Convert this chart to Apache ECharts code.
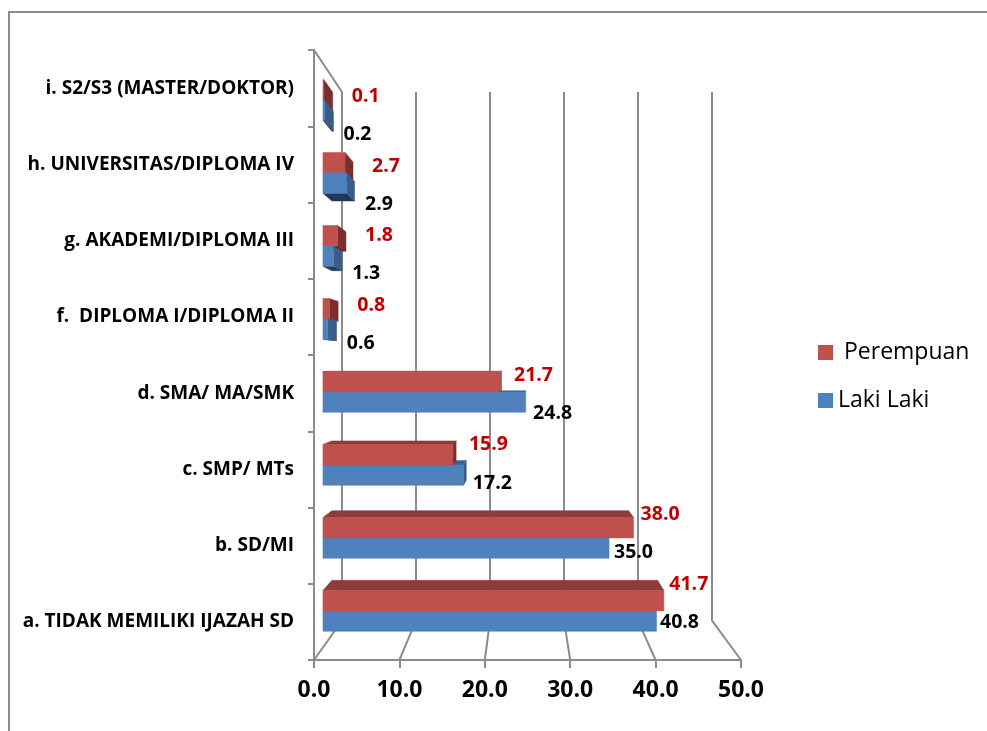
<!DOCTYPE html>
<html>
<head>
<meta charset="utf-8">
<script src="https://cdn.jsdelivr.net/npm/echarts@6/dist/echarts.min.js"></script>
<style>
  html, body { margin: 0; padding: 0; background: #fff; }
  #main { width: 987px; height: 731px; }
</style>
</head>
<body>
<div id="main"></div>
<script>
// data
var categories = ['a. TIDAK MEMILIKI IJAZAH SD', 'b. SD/MI', 'c. SMP/ MTs', 'd. SMA/ MA/SMK',
  'f.  DIPLOMA I/DIPLOMA II', 'g. AKADEMI/DIPLOMA III', 'h. UNIVERSITAS/DIPLOMA IV', 'i. S2/S3 (MASTER/DOKTOR)'];
var lakiLaki = [40.8, 35.0, 17.2, 24.8, 0.6, 1.3, 2.9, 0.2];
var perempuan = [41.7, 38.0, 15.9, 21.7, 0.8, 1.8, 2.7, 0.1];
var xTicks = [0, 10, 20, 30, 40, 50];

// 3D box: front plane and back wall
var FRONT = { left: 314, top: 50, width: 427, height: 610 };
var BACK = { left: 342, top: 92, width: 370, height: 529 };
var S = BACK.width / FRONT.width;
var VP = [(BACK.left - FRONT.left * S) / (1 - S), (BACK.top - FRONT.top * S) / (1 - S)];
var D0 = 0.32, D1 = 0.64; // depth of bars

function project(pt, d) {
  var k = 1 - d * (1 - S);
  return [VP[0] + (pt[0] - VP[0]) * k, VP[1] + (pt[1] - VP[1]) * k];
}

var FONT = '"Open Sans"';
var gray = '#8c8c8c';
var RED = { front: '#C0504D', top: '#8E3B39', right: '#7A2F2D', bottom: '#5E2524', label: '#C00000' };
var BLUE = { front: '#4F81BD', top: '#3B6496', right: '#385D8A', bottom: '#22385A', label: '#000000' };

function barRenderer(col, isRed) {
  return function (params, api) {
    var v = api.value(0), cat = api.value(1);
    var c0 = cat + (isRed ? 0.5 : 0.22);
    var c1 = cat + (isRed ? 0.78 : 0.5);
    var P = function (val, c, d) { return project(api.coord([val, c]), d); };
    var below = P(0, cat + 0.5, D0)[1] > VP[1];
    var z2 = (isRed === below) ? 10 : 5;
    var kids = [];
    var poly = function (pts, fill) {
      kids.push({ type: 'polygon', z2: z2, shape: { points: pts }, style: { fill: fill, stroke: fill, lineWidth: 0.5 } });
    };
    var fr = P(v, c0, D0);
    if (P(v, c1, D0)[1] > VP[1]) {
      poly([P(0, c1, D0), P(v, c1, D0), P(v, c1, D1), P(0, c1, D1)], col.top);
    }
    if (P(0, c0, D0)[1] < VP[1]) {
      poly([P(0, c0, D0), P(v, c0, D0), P(v, c0, D1), P(0, c0, D1)], col.bottom);
    }
    if (fr[0] < VP[0]) {
      poly([P(v, c0, D0), P(v, c1, D0), P(v, c1, D1), P(v, c0, D1)], col.right);
    }
    poly([P(0, c0, D0), P(v, c0, D0), P(v, c1, D0), P(0, c1, D0)], col.front);

    var base = P(0, c0, D0)[0];
    var lx, ly;
    if (isRed) {
      lx = fr[0] + 42 - (fr[0] - base) * 0.05;
      ly = P(v, c1, D1)[1] + 4;
    } else {
      lx = fr[0] + 33 - (fr[0] - base) * 0.03;
      ly = P(v, c0, D1)[1] + 3;
    }
    kids.push({
      type: 'text', z2: 20,
      style: { text: v.toFixed(1), x: lx, y: ly, fill: col.label, fontFamily: FONT, fontWeight: 'bold',
        fontSize: 19.5, align: 'center', verticalAlign: 'middle' }
    });
    return { type: 'group', children: kids };
  };
}

var chart = echarts.init(document.getElementById('main'));
var option = {
  animation: false,
  graphic: [{
    type: 'rect', z: -1, silent: true,
    shape: { x: 9, y: 12, width: 1000, height: 800 },
    style: { fill: 'none', stroke: gray, lineWidth: 2 }
  }],
  legend: {
    orient: 'vertical', left: 813, top: 336,
    itemWidth: 15, itemHeight: 15, itemGap: 25,
    formatter: function (name) { return name === 'Perempuan' ? ' ' + name : name; },
    textStyle: { fontFamily: FONT, fontSize: 23, color: '#000' },
    data: [
      { name: 'Perempuan', icon: 'rect', itemStyle: { color: RED.front } },
      { name: 'Laki Laki', icon: 'rect', itemStyle: { color: BLUE.front } }
    ]
  },
  grid: [
    { left: BACK.left, top: BACK.top, width: BACK.width, height: BACK.height },
    { left: FRONT.left, top: FRONT.top, width: FRONT.width, height: FRONT.height }
  ],
  xAxis: [
    {
      gridIndex: 0, type: 'value', min: 0, max: 50, interval: 10,
      axisLine: { show: false }, axisTick: { show: false }, axisLabel: { show: false },
      splitLine: { show: true, lineStyle: { color: gray, width: 2 } }
    },
    {
      gridIndex: 1, type: 'value', min: 0, max: 50, interval: 10,
      axisLine: { show: true, lineStyle: { color: gray, width: 2 } },
      axisTick: { show: true, length: 8, lineStyle: { color: gray, width: 2 } },
      axisLabel: { margin: 19, color: '#000', fontFamily: FONT, fontWeight: 'bold', fontSize: 23,
        formatter: function (v) { return v.toFixed(1); } },
      splitLine: { show: false }
    }
  ],
  yAxis: [
    { gridIndex: 0, type: 'value', min: 0, max: 8, show: false },
    {
      gridIndex: 1, type: 'category', data: categories,
      axisLine: { show: true, lineStyle: { color: gray, width: 2 } },
      axisTick: { show: true, length: 6, lineStyle: { color: gray, width: 2 } },
      axisLabel: { margin: 20, color: '#000', fontFamily: FONT, fontWeight: 'bold', fontSize: 19 }
    },
    { gridIndex: 1, type: 'value', min: 0, max: 8, show: false }
  ],
  series: [
    {
      name: 'frame', type: 'custom', xAxisIndex: 1, yAxisIndex: 2, z: 1, silent: true,
      data: xTicks.map(function (t) { return [t]; }),
      renderItem: function (params, api) {
        var t = api.value(0);
        var lines = [];
        var a = project(api.coord([t, 0]), 0), b = project(api.coord([t, 0]), 1);
        lines.push({ type: 'line', shape: { x1: a[0], y1: a[1], x2: b[0], y2: b[1] }, style: { stroke: gray, lineWidth: 2 } });
        if (t === xTicks[0]) {
          var c = project(api.coord([t, categories.length]), 0), d = project(api.coord([t, categories.length]), 1);
          lines.push({ type: 'line', shape: { x1: c[0], y1: c[1], x2: d[0], y2: d[1] }, style: { stroke: gray, lineWidth: 2 } });
        }
        return { type: 'group', children: lines };
      }
    },
    {
      name: 'Laki Laki', type: 'custom', xAxisIndex: 1, yAxisIndex: 2, z: 2,
      itemStyle: { color: BLUE.front },
      data: lakiLaki.map(function (v, i) { return [v, i]; }),
      renderItem: barRenderer(BLUE, false)
    },
    {
      name: 'Perempuan', type: 'custom', xAxisIndex: 1, yAxisIndex: 2, z: 2,
      itemStyle: { color: RED.front },
      data: perempuan.map(function (v, i) { return [v, i]; }),
      renderItem: barRenderer(RED, true)
    }
  ]
};
option && chart.setOption(option);
</script>
</body>
</html>
